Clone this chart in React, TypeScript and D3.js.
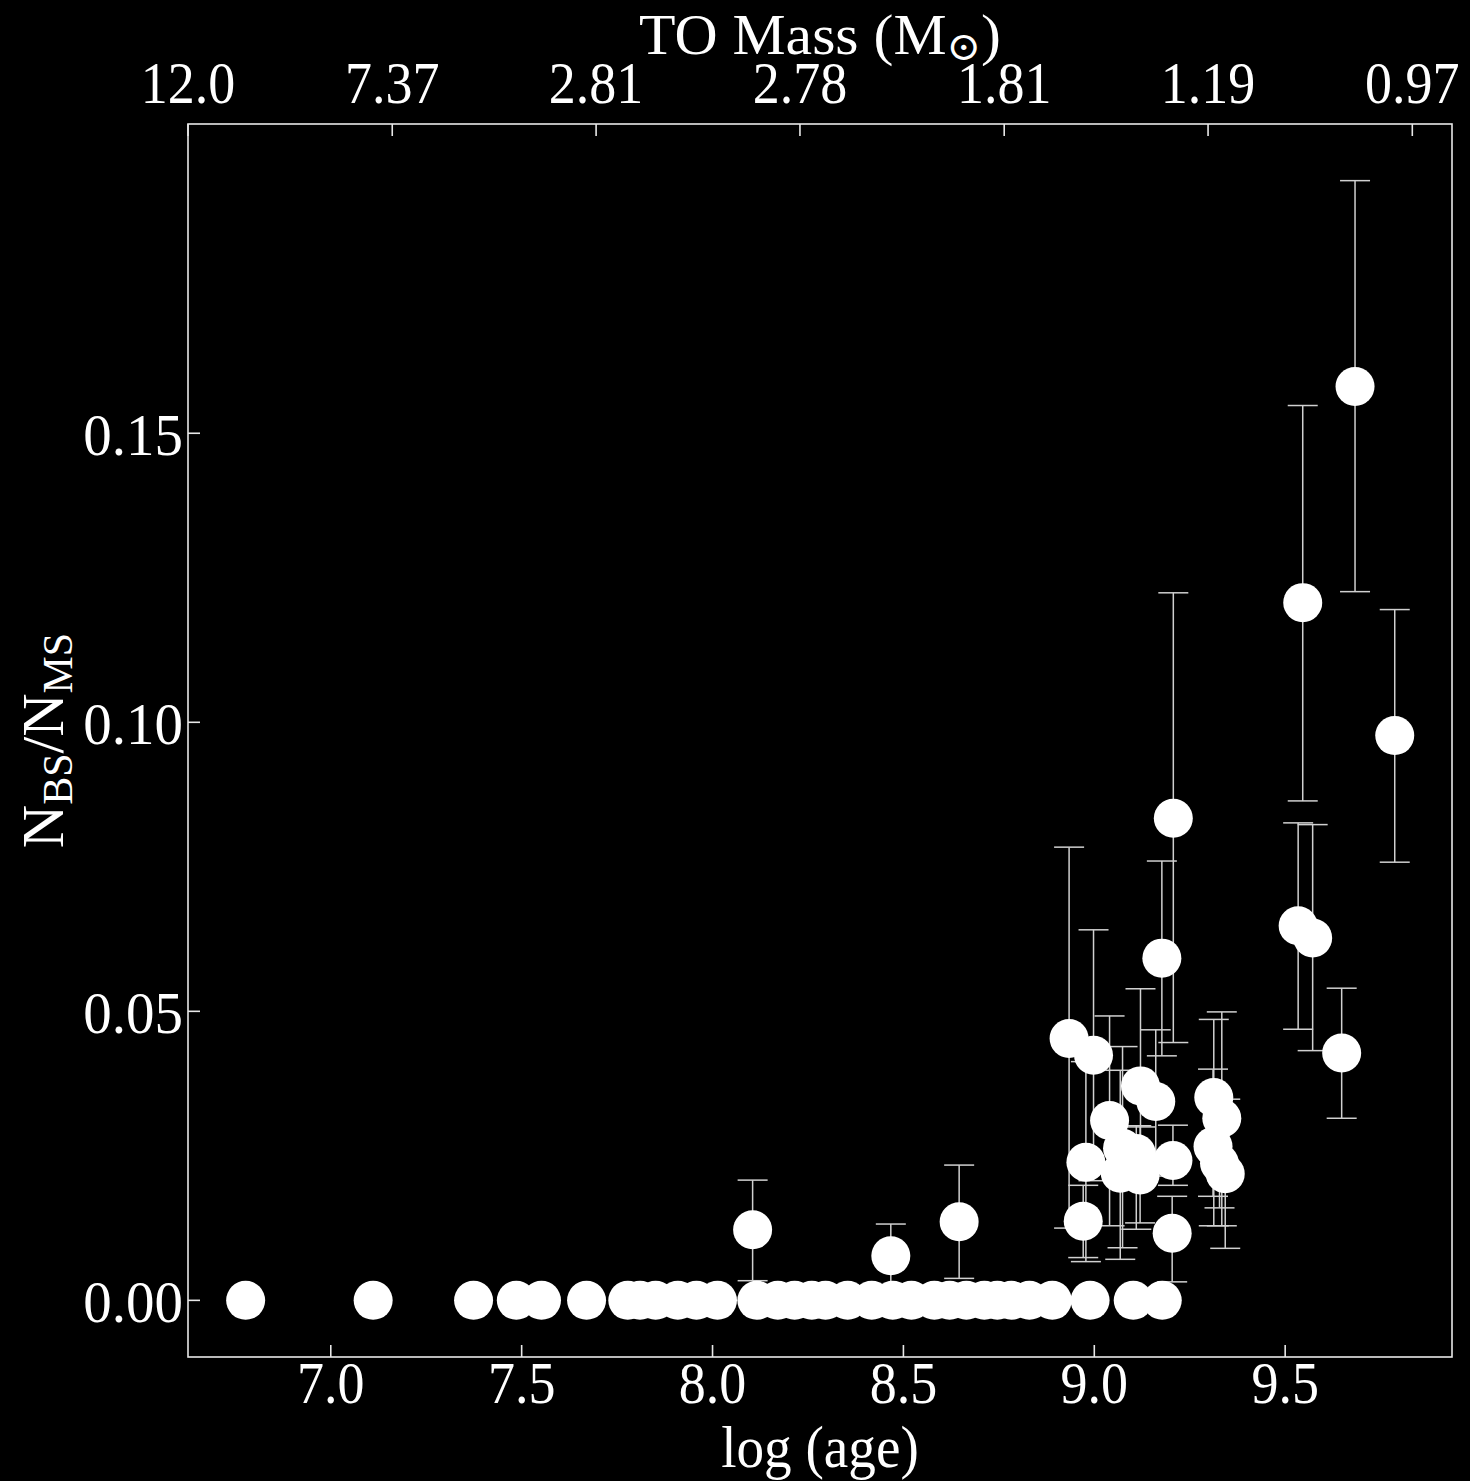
import React from 'react';
import * as d3 from 'd3';

// points sitting at zero (no visible error bars)
const zeroAges = [6.777, 7.111, 7.374, 7.486, 7.552, 7.670, 7.778, 7.810, 7.851, 7.909, 7.958, 8.013,
  8.116, 8.171, 8.215, 8.260, 8.296, 8.354, 8.417, 8.472, 8.521, 8.581, 8.621, 8.665, 8.712, 8.746,
  8.783, 8.830, 8.890, 8.989, 9.102, 9.178];

// points with error bars
const bsAges = [8.105, 8.467, 8.646, 8.934, 8.998, 8.971, 8.978, 9.040, 9.074, 9.068, 9.110, 9.120,
  9.121, 9.161, 9.177, 9.206, 9.204, 9.207, 9.313, 9.334, 9.311, 9.328, 9.343, 9.534, 9.546, 9.572,
  9.648, 9.683, 9.787];
const bsFrac = [0.0122, 0.0077, 0.0136, 0.0453, 0.0424, 0.0137, 0.0239, 0.0311, 0.0263, 0.0220, 0.0254, 0.0217,
  0.0371, 0.0344, 0.0592, 0.0242, 0.0116, 0.0834, 0.0351, 0.0315, 0.0266, 0.0237, 0.0219, 0.0648, 0.1207, 0.0627,
  0.0428, 0.1581, 0.0977];
const bsLow = [0.0034, 0.0022, 0.0038, 0.0125, 0.0207, 0.0074, 0.0067, 0.0129, 0.0091, 0.0071, 0.0123, 0.0134,
  0.0200, 0.0215, 0.0423, 0.0199, 0.0032, 0.0446, 0.0129, 0.0129, 0.0180, 0.0160, 0.0090, 0.0469, 0.0864, 0.0432,
  0.0315, 0.1226, 0.0758];
const bsHigh = [0.0208, 0.0132, 0.0234, 0.0784, 0.0641, 0.0199, 0.0413, 0.0492, 0.0439, 0.0398, 0.0302, 0.0300,
  0.0539, 0.0468, 0.0760, 0.0303, 0.0180, 0.1224, 0.0486, 0.0499, 0.0400, 0.0310, 0.0348, 0.0826, 0.1548, 0.0823,
  0.0540, 0.1937, 0.1195];

const xTicks = [7.0, 7.5, 8.0, 8.5, 9.0, 9.5];
const yTicks = [0, 0.05, 0.1, 0.15];
const topTickAges = [6.626, 7.161, 7.695, 8.229, 8.764, 9.298, 9.833];
const topTickLabels = ['12.0', '7.37', '2.81', '2.78', '1.81', '1.19', '0.97'];

const W = 1470;
const H = 1481;
const left = 188, right = 1452, top = 124, bottom = 1357;
const font = '"Liberation Serif", "DejaVu Serif", serif';
const fs = 60;
const fg = '#e8e8e8';

export default function App() {
  const x = d3.scaleLinear().domain([6.626, 9.937]).range([left, right]);
  const y = d3.scaleLinear().domain([-0.0098, 0.2035]).range([bottom, top]);
  const fx = d3.format('.1f');
  const fy = d3.format('.2f');
  const r = 19.5;
  const cap = 15;

  const label = (tx: number, ty: number, text: React.ReactNode, anchor = 'middle', extra = '', sx = 0.9, size = fs) => (
    <text transform={`translate(${tx},${ty}) ${extra} scale(${sx},1)`} textAnchor={anchor}
      fontFamily={font} fontSize={size} fill="#fff">{text}</text>
  );

  return (
    <svg width={W} height={H} style={{ position: 'absolute', left: 0, top: 0, background: '#000' }}>
      <rect width={W} height={H} fill="#000" />
      <rect x={left} y={top} width={right - left} height={bottom - top} fill="none" stroke={fg} strokeWidth={1.6} />

      {xTicks.map((t) => (
        <g key={'xt' + t}>
          <line x1={x(t)} x2={x(t)} y1={bottom} y2={bottom - 12} stroke={fg} strokeWidth={1.6} />
          {label(x(t), bottom + 46, fx(t))}
        </g>
      ))}
      {yTicks.map((t) => (
        <g key={'yt' + t}>
          <line x1={left} x2={left + 12} y1={y(t)} y2={y(t)} stroke={fg} strokeWidth={1.6} />
          {label(left - 5, y(t) + 22, fy(t), 'end', '', 0.95)}
        </g>
      ))}
      {topTickAges.map((t, i) => (
        <g key={'tt' + i}>
          <line x1={x(t)} x2={x(t)} y1={top} y2={top + 12} stroke={fg} strokeWidth={1.6} />
          {label(x(t), top - 21, topTickLabels[i])}
        </g>
      ))}

      {label(820, 1467, 'log (age)', 'middle', '', 0.92)}
      {label(820, 54, <>TO Mass (M<tspan fontSize={40} dy={6}>⊙</tspan><tspan dy={-6}>)</tspan></>, 'middle', '', 1.03, 58)}
      {label(63, (top + bottom) / 2,
        <>N<tspan fontSize={42} dy={9}>BS</tspan><tspan dy={-9}>/N</tspan><tspan fontSize={42} dy={9}>MS</tspan></>,
        'middle', 'rotate(-90)', 1)}

      {bsAges.map((a, i) => (
        <g key={'e' + i} stroke="#d0d0d0" strokeWidth={1.5}>
          <line x1={x(a)} x2={x(a)} y1={y(bsLow[i])} y2={y(bsHigh[i])} />
          <line x1={x(a) - cap} x2={x(a) + cap} y1={y(bsLow[i])} y2={y(bsLow[i])} />
          <line x1={x(a) - cap} x2={x(a) + cap} y1={y(bsHigh[i])} y2={y(bsHigh[i])} />
        </g>
      ))}
      {zeroAges.map((a, i) => (
        <circle key={'z' + i} cx={x(a)} cy={y(0)} r={r} fill="#fff" />
      ))}
      {bsAges.map((a, i) => (
        <circle key={'p' + i} cx={x(a)} cy={y(bsFrac[i])} r={r} fill="#fff" />
      ))}
    </svg>
  );
}
